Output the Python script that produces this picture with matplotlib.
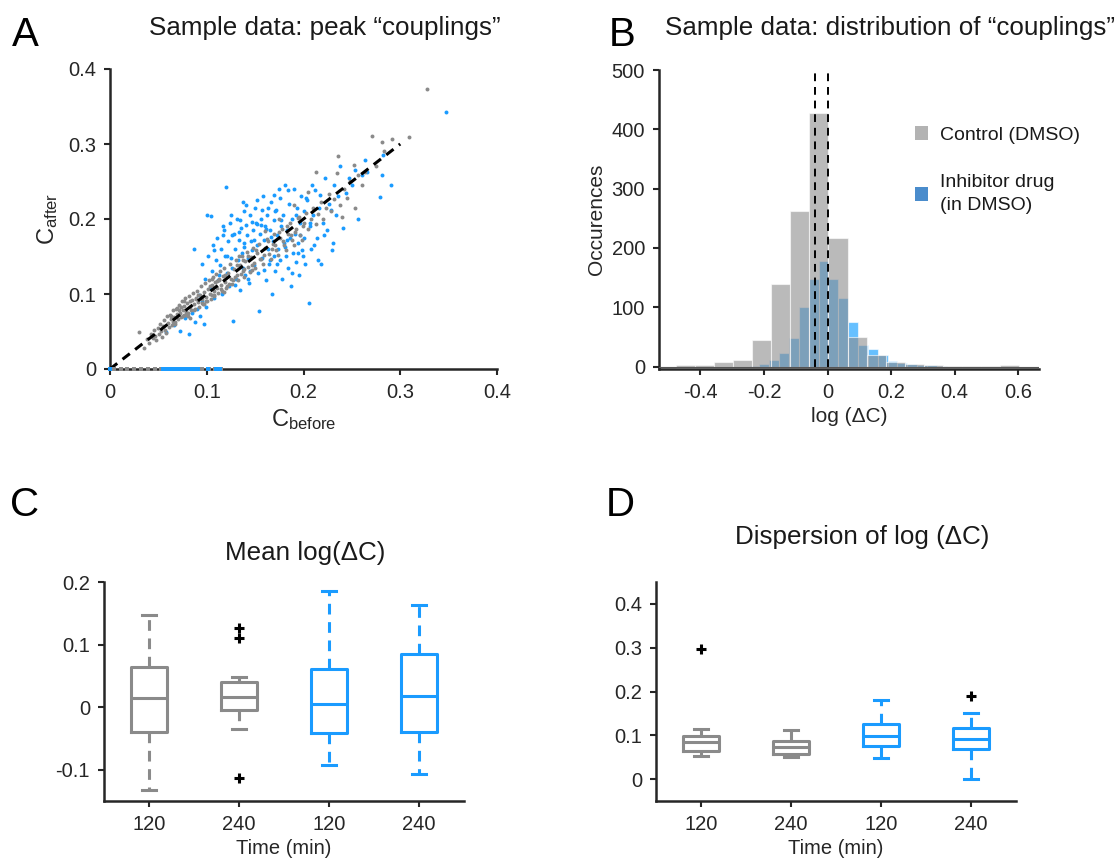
import matplotlib
matplotlib.use('Agg')
import matplotlib.pyplot as plt
from matplotlib.patches import Patch

plt.rcParams['font.family'] = ['Liberation Sans', 'DejaVu Sans']
plt.rcParams['mathtext.fontset'] = 'custom'
plt.rcParams['mathtext.rm'] = 'Liberation Sans'
plt.rcParams['text.color'] = '#1a1a1a'
plt.rcParams['axes.labelcolor'] = '#262626'
plt.rcParams['xtick.color'] = '#262626'
plt.rcParams['ytick.color'] = '#262626'

GRAY = '#8a8a8a'
BLUE = '#1a9bff'

# ---- panel A: peak couplings before / after ----
gray_before = [0.030, 0.035, 0.038, 0.040, 0.042, 0.044, 0.045, 0.047, 0.048, 0.050, 0.051, 0.052, 0.053, 0.054,
               0.055, 0.056, 0.057, 0.058, 0.059, 0.060, 0.061, 0.062, 0.063, 0.064, 0.065, 0.066, 0.067, 0.068,
               0.069, 0.070, 0.071, 0.072, 0.073, 0.074, 0.075, 0.076, 0.077, 0.078, 0.079, 0.080, 0.081, 0.082,
               0.083, 0.084, 0.085, 0.086, 0.087, 0.088, 0.089, 0.090, 0.091, 0.092, 0.093, 0.094, 0.095, 0.096,
               0.097, 0.098, 0.099, 0.100, 0.101, 0.102, 0.103, 0.104, 0.105, 0.106, 0.107, 0.108, 0.109, 0.110,
               0.111, 0.112, 0.113, 0.114, 0.115, 0.116, 0.117, 0.118, 0.119, 0.120, 0.122, 0.124, 0.125, 0.126,
               0.128, 0.130, 0.131, 0.132, 0.134, 0.136, 0.137, 0.138, 0.140, 0.142, 0.143, 0.145, 0.146, 0.148,
               0.149, 0.150, 0.152, 0.154, 0.156, 0.158, 0.160, 0.162, 0.164, 0.166, 0.168, 0.170, 0.172, 0.174,
               0.176, 0.178, 0.180, 0.182, 0.184, 0.186, 0.188, 0.190, 0.192, 0.194, 0.196, 0.198, 0.200, 0.203,
               0.205, 0.208, 0.210, 0.213, 0.215, 0.218, 0.220, 0.223, 0.226, 0.228, 0.232, 0.235, 0.236, 0.238,
               0.240, 0.242, 0.245, 0.248, 0.252, 0.253, 0.256, 0.260, 0.264, 0.271, 0.275, 0.281, 0.283, 0.291,
               0.309, 0.328, 0.213, 0.205, 0.190, 0.175, 0.160, 0.077, 0.083, 0.069, 0.105, 0.118, 0.133, 0.147]
gray_after = [0.049, 0.028, 0.040, 0.035, 0.046, 0.041, 0.052, 0.044, 0.038, 0.055, 0.047, 0.060, 0.050, 0.043,
              0.057, 0.065, 0.052, 0.048, 0.070, 0.061, 0.056, 0.072, 0.066, 0.059, 0.078, 0.069, 0.062, 0.080,
              0.073, 0.066, 0.085, 0.075, 0.069, 0.090, 0.079, 0.072, 0.084, 0.094, 0.076, 0.088, 0.070, 0.097,
              0.083, 0.078, 0.092, 0.101, 0.086, 0.080, 0.095, 0.104, 0.089, 0.083, 0.099, 0.110, 0.093, 0.086,
              0.103, 0.114, 0.096, 0.090, 0.107, 0.118, 0.100, 0.093, 0.112, 0.122, 0.104, 0.097, 0.116, 0.126,
              0.108, 0.101, 0.120, 0.131, 0.112, 0.104, 0.124, 0.135, 0.116, 0.108, 0.128, 0.140, 0.120, 0.113,
              0.133, 0.145, 0.125, 0.118, 0.138, 0.150, 0.130, 0.123, 0.144, 0.156, 0.136, 0.129, 0.149, 0.161,
              0.141, 0.134, 0.155, 0.167, 0.147, 0.140, 0.161, 0.173, 0.153, 0.146, 0.167, 0.180, 0.159, 0.152,
              0.174, 0.187, 0.165, 0.158, 0.180, 0.194, 0.172, 0.165, 0.187, 0.201, 0.179, 0.172, 0.194, 0.208,
              0.186, 0.200, 0.215, 0.193, 0.207, 0.222, 0.200, 0.215, 0.233, 0.210, 0.226, 0.261, 0.284, 0.219,
              0.203, 0.240, 0.228, 0.250, 0.272, 0.215, 0.258, 0.245, 0.262, 0.311, 0.270, 0.303, 0.290, 0.307,
              0.309, 0.373, 0.263, 0.236, 0.218, 0.200, 0.184, 0.090, 0.068, 0.081, 0.120, 0.102, 0.150, 0.132]
gray_before_dense = [0.063, 0.067, 0.071, 0.075, 0.079, 0.083, 0.087, 0.091, 0.095, 0.099, 0.103, 0.107,
                     0.111, 0.115, 0.119, 0.123, 0.127, 0.131, 0.135, 0.139, 0.143, 0.147, 0.151, 0.155,
                     0.159, 0.163, 0.167, 0.171, 0.175, 0.179, 0.183, 0.187, 0.191, 0.195, 0.199, 0.065,
                     0.073, 0.081, 0.089, 0.097, 0.105, 0.113, 0.121, 0.129, 0.137]
gray_after_dense = [0.070, 0.060, 0.079, 0.070, 0.072, 0.091, 0.079, 0.098, 0.088, 0.090, 0.111, 0.099,
                    0.117, 0.106, 0.125, 0.113, 0.119, 0.138, 0.127, 0.133, 0.150, 0.139, 0.158, 0.146,
                    0.152, 0.170, 0.160, 0.165, 0.183, 0.170, 0.190, 0.178, 0.182, 0.203, 0.190, 0.062,
                    0.083, 0.074, 0.093, 0.087, 0.098, 0.118, 0.111, 0.123, 0.145]
gray_zero_before = [0.004, 0.011, 0.018, 0.025, 0.032, 0.039, 0.046, 0.053, 0.060, 0.067, 0.074, 0.081,
                    0.088, 0.095, 0.102, 0.109, 0.115]

blue_before = [0.058, 0.066, 0.072, 0.078, 0.082, 0.085, 0.088, 0.090, 0.093, 0.095, 0.097, 0.099, 0.100, 0.104,
               0.087, 0.092, 0.095, 0.098, 0.101, 0.103, 0.105, 0.106, 0.108, 0.110, 0.111, 0.112, 0.114, 0.115,
               0.116, 0.118, 0.119, 0.120, 0.121, 0.122, 0.123, 0.124, 0.125, 0.126, 0.127, 0.128, 0.129, 0.130,
               0.131, 0.132, 0.133, 0.134, 0.135, 0.136, 0.137, 0.138, 0.139, 0.140, 0.141, 0.142, 0.143, 0.144,
               0.145, 0.146, 0.147, 0.148, 0.149, 0.150, 0.151, 0.152, 0.153, 0.154, 0.155, 0.156, 0.157, 0.158,
               0.159, 0.160, 0.161, 0.162, 0.163, 0.164, 0.165, 0.166, 0.167, 0.168, 0.169, 0.170, 0.171, 0.172,
               0.173, 0.174, 0.175, 0.176, 0.177, 0.178, 0.179, 0.180, 0.181, 0.182, 0.183, 0.184, 0.185, 0.186,
               0.187, 0.188, 0.189, 0.190, 0.191, 0.192, 0.193, 0.194, 0.195, 0.196, 0.197, 0.198, 0.200, 0.201,
               0.202, 0.204, 0.206, 0.207, 0.208, 0.210, 0.212, 0.214, 0.215, 0.216, 0.218, 0.220, 0.222, 0.224,
               0.226, 0.229, 0.230, 0.232, 0.234, 0.236, 0.238, 0.241, 0.244, 0.247, 0.250, 0.253, 0.256, 0.260,
               0.264, 0.266, 0.279, 0.281, 0.282, 0.290, 0.347, 0.133, 0.147, 0.161, 0.117, 0.152, 0.171]
blue_after = [0.049, 0.058, 0.050, 0.068, 0.046, 0.075, 0.062, 0.080, 0.070, 0.090, 0.060, 0.082, 0.205, 0.204,
              0.160, 0.098, 0.140, 0.120, 0.150, 0.108, 0.130, 0.165, 0.095, 0.145, 0.175, 0.118, 0.138, 0.160,
              0.100, 0.185, 0.150, 0.242, 0.128, 0.170, 0.110, 0.195, 0.148, 0.135, 0.064, 0.180, 0.160, 0.120,
              0.200, 0.145, 0.172, 0.105, 0.188, 0.155, 0.135, 0.210, 0.168, 0.125, 0.192, 0.178, 0.148, 0.115,
              0.205, 0.170, 0.158, 0.185, 0.138, 0.215, 0.195, 0.165, 0.128, 0.077, 0.180, 0.200, 0.148, 0.230,
              0.172, 0.190, 0.118, 0.205, 0.160, 0.140, 0.185, 0.222, 0.100, 0.170, 0.150, 0.198, 0.130, 0.212,
              0.178, 0.160, 0.240, 0.145, 0.190, 0.120, 0.205, 0.168, 0.245, 0.150, 0.185, 0.135, 0.220, 0.175,
              0.110, 0.200, 0.155, 0.240, 0.180, 0.142, 0.215, 0.168, 0.125, 0.195, 0.230, 0.158, 0.210, 0.175,
              0.140, 0.225, 0.088, 0.190, 0.160, 0.205, 0.238, 0.175, 0.145, 0.215, 0.140, 0.195, 0.255, 0.185,
              0.220, 0.159, 0.168, 0.245, 0.205, 0.230, 0.270, 0.188, 0.235, 0.255, 0.245, 0.265, 0.200, 0.258,
              0.278, 0.262, 0.229, 0.258, 0.285, 0.245, 0.343, 0.182, 0.196, 0.186, 0.178, 0.193, 0.210]
blue_before_dense = [0.108, 0.113, 0.117, 0.121, 0.126, 0.129, 0.134, 0.138, 0.141, 0.145, 0.149, 0.152,
                     0.156, 0.159, 0.163, 0.166, 0.170, 0.173, 0.177, 0.181, 0.184, 0.188, 0.192, 0.196,
                     0.199, 0.203, 0.207, 0.211, 0.217, 0.221, 0.125, 0.137, 0.143, 0.157, 0.165, 0.176,
                     0.183, 0.194, 0.209, 0.228]
blue_after_dense = [0.158, 0.125, 0.190, 0.150, 0.178, 0.112, 0.198, 0.162, 0.218, 0.130, 0.172, 0.225,
                    0.192, 0.132, 0.214, 0.176, 0.232, 0.140, 0.198, 0.162, 0.238, 0.128, 0.205, 0.178,
                    0.150, 0.228, 0.195, 0.165, 0.232, 0.178, 0.205, 0.222, 0.120, 0.212, 0.145, 0.228,
                    0.172, 0.155, 0.245, 0.212]
blue_zero_before = [0.000, 0.055, 0.058, 0.061, 0.064, 0.067, 0.070, 0.073, 0.076, 0.079, 0.082, 0.085, 0.088,
                    0.091, 0.101, 0.110, 0.114]
identity_line = [0.0, 0.3]

# ---- panel B: histograms of log(delta C) ----
gray_edges = [-0.477, -0.417, -0.357, -0.297, -0.237, -0.177, -0.117, -0.057, 0.003, 0.063, 0.123, 0.183,
              0.243, 0.303, 0.363, 0.423, 0.483, 0.543, 0.603]
gray_counts = [2, 3, 7, 12, 45, 140, 262, 427, 217, 50, 20, 8, 5, 3, 1, 1, 1, 2]
blue_edges = [-0.245, -0.214, -0.183, -0.152, -0.121, -0.090, -0.059, -0.028, 0.003, 0.034, 0.065, 0.096,
              0.127, 0.158, 0.189, 0.220, 0.251, 0.282, 0.313, 0.344, 0.375]
blue_counts = [1, 5, 11, 23, 49, 100, 148, 178, 148, 115, 76, 36, 29, 19, 9, 6, 4, 3, 2, 1]
median_marks = [-0.038, 0.0]

# ---- panels C and D: box plot summaries (gray = control, blue = drug) ----
time_labels = ['120', '240', '120', '240']
box_colors = [GRAY, GRAY, BLUE, BLUE]

mean_whislo = [-0.132, -0.035, -0.093, -0.107]
mean_q1 = [-0.039, -0.004, -0.041, -0.039]
mean_med = [0.015, 0.017, 0.005, 0.018]
mean_q3 = [0.064, 0.040, 0.061, 0.085]
mean_whishi = [0.147, 0.048, 0.186, 0.163]
mean_fliers = [[], [0.127, 0.110, -0.113], [], []]

disp_whislo = [0.052, 0.050, 0.049, 0.000]
disp_q1 = [0.065, 0.057, 0.075, 0.068]
disp_med = [0.084, 0.073, 0.099, 0.092]
disp_q3 = [0.099, 0.087, 0.125, 0.117]
disp_whishi = [0.115, 0.112, 0.181, 0.150]
disp_fliers = [[0.297], [], [], [0.189]]

TITLE_SIZE = 18.7


def style_axes(ax):
    for s in ['top', 'right']:
        ax.spines[s].set_visible(False)
    for s in ['left', 'bottom']:
        ax.spines[s].set_linewidth(1.8)
        ax.spines[s].set_color('#262626')
    ax.tick_params(direction='out', length=4, width=1.5, labelsize=14.5, pad=6)


def draw_boxes(ax, lo, q1, med, q3, hi, fliers):
    stats = []
    for i in range(len(med)):
        stats.append(dict(whislo=lo[i], q1=q1[i], med=med[i], q3=q3[i], whishi=hi[i], fliers=fliers[i]))
    for i, st in enumerate(stats):
        c = box_colors[i]
        ax.bxp([st], positions=[i + 1], widths=0.4, capwidths=0.15, showfliers=True,
               boxprops=dict(color=c, linewidth=2.2),
               medianprops=dict(color=c, linewidth=2.2),
               whiskerprops=dict(color=c, linewidth=2.2, linestyle=(0, (3.5, 2.5))),
               capprops=dict(color=c, linewidth=2.2),
               flierprops=dict(marker='+', markeredgecolor='black', markersize=7, markeredgewidth=2.2,
                               linestyle='none'))
    ax.set_xlim(0.5, 4.5)
    ax.set_xticks(range(1, len(time_labels) + 1))
    ax.set_xticklabels(time_labels)
    ax.set_xlabel('Time (min)', fontsize=14.5, labelpad=4)


fig = plt.figure(figsize=(11.19, 8.63), dpi=100)

# panel A
axA = fig.add_axes([110 / 1119, 1 - 369 / 863, 387 / 1119, 300 / 863])
axA.scatter(blue_before + blue_before_dense, blue_after + blue_after_dense, s=8, color=BLUE,
            linewidths=0, zorder=2)
axA.scatter(gray_before + gray_before_dense, gray_after + gray_after_dense, s=8, color=GRAY,
            linewidths=0, zorder=3)
axA.plot(identity_line, identity_line, color='black', lw=2.2, ls=(0, (3, 2.2)), zorder=4)
axA.scatter(gray_zero_before, [0] * len(gray_zero_before), s=9, color=GRAY, linewidths=0,
            marker='s', clip_on=False, zorder=5)
axA.scatter(blue_zero_before, [0] * len(blue_zero_before), s=9, color=BLUE, linewidths=0,
            marker='s', clip_on=False, zorder=6)
axA.set_xlim(0, 0.4)
axA.set_ylim(0, 0.4)
axA.set_xticks([0, 0.1, 0.2, 0.3, 0.4])
axA.set_xticklabels(['0', '0.1', '0.2', '0.3', '0.4'])
axA.set_yticks([0, 0.1, 0.2, 0.3, 0.4])
axA.set_yticklabels(['0', '0.1', '0.2', '0.3', '0.4'])
style_axes(axA)
axA.set_xlabel(r'$\mathregular{C_{before}}$', fontsize=17, labelpad=4)
axA.set_ylabel(r'$\mathregular{C_{after}}$', fontsize=17, labelpad=6)

# panel B
axB = fig.add_axes([659 / 1119, 1 - 369 / 863, 380 / 1119, 299 / 863])
blue_w = [blue_edges[i + 1] - blue_edges[i] for i in range(len(blue_counts))]
gray_w = [gray_edges[i + 1] - gray_edges[i] for i in range(len(gray_counts))]
axB.bar(blue_edges[:-1], blue_counts, width=blue_w, align='edge', color='#0096ff', alpha=0.6,
        edgecolor='white', linewidth=0.8, zorder=2)
axB.bar(gray_edges[:-1], gray_counts, width=gray_w, align='edge', color='#8c8c8c', alpha=0.6,
        edgecolor='white', linewidth=0.8, zorder=3)
axB.vlines(median_marks, 0, 500, colors='black', linestyles=(0, (4, 3)), lw=1.4, zorder=4)
axB.axhline(0, color='#555555', lw=0.8, zorder=5)
axB.set_xlim(-0.53, 0.665)
axB.set_ylim(-4, 500)
axB.set_xticks([-0.4, -0.2, 0, 0.2, 0.4, 0.6])
axB.set_xticklabels(['-0.4', '-0.2', '0', '0.2', '0.4', '0.6'])
axB.set_yticks([0, 100, 200, 300, 400, 500])
style_axes(axB)
axB.set_xlabel('log (ΔC)', fontsize=15, labelpad=4)
axB.set_ylabel('Occurences', fontsize=15, labelpad=4)
handles = [Patch(facecolor='#b3b3b3', edgecolor='none'), Patch(facecolor='#4a8ccc', edgecolor='none')]
leg = axB.legend(handles, ['Control (DMSO)', 'Inhibitor drug\n(in DMSO)'], loc='upper left',
                 bbox_to_anchor=(0.627, 0.87), frameon=False, fontsize=14, handlelength=0.7,
                 handleheight=0.7, labelspacing=1.55, handletextpad=0.6)
for t in leg.get_texts():
    t.set_linespacing(1.45)

# panel C
axC = fig.add_axes([104 / 1119, 1 - 801 / 863, 360 / 1119, 219 / 863])
draw_boxes(axC, mean_whislo, mean_q1, mean_med, mean_q3, mean_whishi, mean_fliers)
axC.set_ylim(-0.15, 0.2)
axC.set_yticks([-0.1, 0, 0.1, 0.2])
axC.set_yticklabels(['-0.1', '0', '0.1', '0.2'])
style_axes(axC)

# panel D
axD = fig.add_axes([656 / 1119, 1 - 801 / 863, 360 / 1119, 219 / 863])
draw_boxes(axD, disp_whislo, disp_q1, disp_med, disp_q3, disp_whishi, disp_fliers)
axD.set_ylim(-0.05, 0.45)
axD.set_yticks([0, 0.1, 0.2, 0.3, 0.4])
axD.set_yticklabels(['0', '0.1', '0.2', '0.3', '0.4'])
style_axes(axD)

# titles and panel letters
fig.text(325 / 1119, 1 - 28 / 863, 'Sample data: peak “couplings”', ha='center', va='center',
         fontsize=TITLE_SIZE)
fig.text(890 / 1119, 1 - 28 / 863, 'Sample data: distribution of “couplings”', ha='center', va='center',
         fontsize=TITLE_SIZE)
fig.text(305 / 1119, 1 - 553 / 863, 'Mean log(ΔC)', ha='center', va='center', fontsize=TITLE_SIZE)
fig.text(862 / 1119, 1 - 537 / 863, 'Dispersion of log (ΔC)', ha='center', va='center', fontsize=TITLE_SIZE)
for letter, x, y in [('A', 25, 35), ('B', 622, 35), ('C', 25, 505), ('D', 620, 505)]:
    fig.text(x / 1119, 1 - y / 863, letter, ha='center', va='center', fontsize=29, color='black')

fig.savefig('out.png', dpi=100)
